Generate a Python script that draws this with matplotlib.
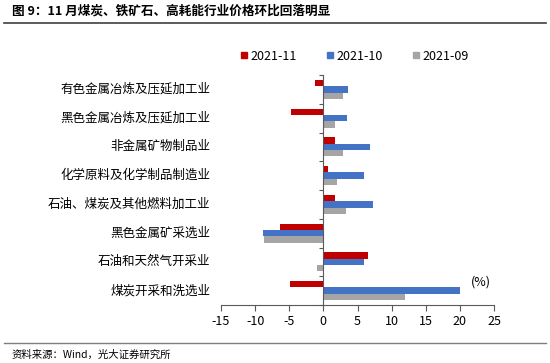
import matplotlib
matplotlib.use("Agg")
import matplotlib.pyplot as plt
import numpy as np
from matplotlib.transforms import blended_transform_factory
from matplotlib.lines import Line2D

plt.rcParams['font.family'] = ['Noto Sans CJK SC', 'DejaVu Sans']

categories = ["有色金属冶炼及压延加工业", "黑色金属冶炼及压延加工业", "非金属矿物制品业",
              "化学原料及化学制品制造业", "石油、煤炭及其他燃料加工业", "黑色金属矿采选业",
              "石油和天然气开采业", "煤炭开采和洗选业"]
series_names = ["2021-11", "2021-10", "2021-09"]
v_2021_11 = [-1.2, -4.8, 1.75, 0.7, 1.7, -6.3, 6.5, -4.9]
v_2021_10 = [3.55, 3.4, 6.85, 6.0, 7.2, -8.85, 6.0, 20.0]
v_2021_09 = [2.9, 1.75, 2.9, 1.95, 3.25, -8.7, -0.9, 12.0]
colors = ["#C00000", "#4472C4", "#A5A5A5"]
xticks = [-15, -10, -5, 0, 5, 10, 15, 20, 25]

fig = plt.figure(figsize=(5.5, 3.63), dpi=100)
ax = fig.add_axes([221/550, 1-305/363, 273/550, 230/363])

y = np.arange(len(categories))
h = 0.22
for k, (vals, c, name) in enumerate(zip([v_2021_11, v_2021_10, v_2021_09], colors, series_names)):
    ax.barh(y + (k-1)*h, vals, height=h, color=c, label=name, edgecolor='none')

ax.set_xlim(-15, 25)
ax.set_ylim(len(categories)-0.5, -0.5)
ax.set_xticks(xticks)
ax.set_xticklabels([str(t) for t in xticks], fontsize=9)
ax.tick_params(axis='x', direction='out', length=4, color='#595959', pad=3)
for s in ['top', 'right']:
    ax.spines[s].set_visible(False)
ax.spines['left'].set_position(('data', 0))
ax.spines['left'].set_color('#595959')
ax.spines['bottom'].set_color('#595959')
ax.set_yticks(np.arange(len(categories)+1) - 0.5)
ax.set_yticklabels([])
ax.tick_params(axis='y', direction='out', length=3, color='#595959')

trans = blended_transform_factory(ax.transAxes, ax.transData)
for i, cat in enumerate(categories):
    ax.text(-0.04, i, cat, transform=trans, ha='right', va='center', fontsize=9, color='#000000')

ax.text(491/550, 1-282/363, "(%)", transform=fig.transFigure, ha='right', va='center', fontsize=9)

handles = [plt.Rectangle((0, 0), 1, 1, color=c) for c in colors]
fig.legend(handles, series_names, loc='center', bbox_to_anchor=(355/550, 1-56/363), ncol=3,
           frameon=False, fontsize=9, handlelength=0.45, handleheight=0.45, columnspacing=2.4,
           handletextpad=0.3)

fig.text(12/550, 1-11/363, "图 9：11 月煤炭、铁矿石、高耗能行业价格环比回落明显", fontsize=9.1,
         fontweight='bold', ha='left', va='center')
fig.add_artist(Line2D([4/550, 546/550], [1-23/363, 1-23/363], color='#404040', lw=1.2))
fig.add_artist(Line2D([4/550, 546/550], [1-343/363, 1-343/363], color='#7F7F7F', lw=1.0))
fig.text(12/550, 1-355/363, "资料来源：Wind，光大证券研究所", fontsize=7.5, ha='left', va='center')

fig.savefig("out.png", dpi=100)
